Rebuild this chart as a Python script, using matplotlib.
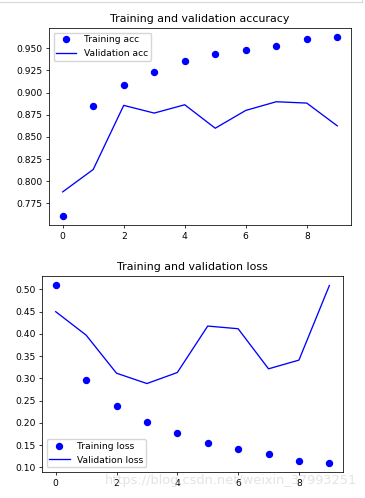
import matplotlib
matplotlib.use('Agg')
import matplotlib.pyplot as plt
from matplotlib.lines import Line2D

# Base style: small sizes so the picture matches a scaled-down notebook screenshot
plt.rcParams['font.family'] = 'DejaVu Sans'
plt.rcParams['font.size'] = 6.6
plt.rcParams['axes.titlesize'] = 7.9
plt.rcParams['axes.linewidth'] = 0.55
plt.rcParams['xtick.major.size'] = 2.2
plt.rcParams['ytick.major.size'] = 2.2
plt.rcParams['xtick.major.width'] = 0.55
plt.rcParams['ytick.major.width'] = 0.55
plt.rcParams['xtick.major.pad'] = 2.5
plt.rcParams['ytick.major.pad'] = 2.5
plt.rcParams['axes.titlepad'] = 4

# Data read from the training history
epochs = list(range(10))
train_acc = [0.7606, 0.8848, 0.9083, 0.9235, 0.9352, 0.9432, 0.9485, 0.9526, 0.9606, 0.9629]
val_acc = [0.7879, 0.8132, 0.8856, 0.8769, 0.8863, 0.8598, 0.8799, 0.8897, 0.8882, 0.8625]
train_loss = [0.5098, 0.2959, 0.2387, 0.2020, 0.1780, 0.1555, 0.1420, 0.1300, 0.1135, 0.1098]
val_loss = [0.4497, 0.3971, 0.3116, 0.2884, 0.3131, 0.4174, 0.4114, 0.3214, 0.3410, 0.5083]

fig = plt.figure(figsize=(3.65, 4.98), dpi=100)

# Accuracy plot
ax1 = fig.add_axes([0.1342, 0.5482, 0.8274, 0.3956])
ax1.plot(epochs, train_acc, 'bo', markersize=4.3, label='Training acc')
ax1.plot(epochs, val_acc, 'b', linewidth=0.95, label='Validation acc')
ax1.set_title('Training and validation accuracy')
ax1.set_yticks([0.775, 0.800, 0.825, 0.850, 0.875, 0.900, 0.925, 0.950])
ax1.set_xticks([0, 2, 4, 6, 8])
ax1.legend(loc='upper left', borderpad=0.3, handlelength=2.2)

# Loss plot
ax2 = fig.add_axes([0.1151, 0.0522, 0.8247, 0.3936])
ax2.plot(epochs, train_loss, 'bo', markersize=4.3, label='Training loss')
ax2.plot(epochs, val_loss, 'b', linewidth=0.95, label='Validation loss')
ax2.set_title('Training and validation loss')
ax2.set_xticks([0, 2, 4, 6, 8])
ax2.legend(loc='lower left', borderpad=0.3, handlelength=2.2)

# Notebook cell border at the top and blog watermark
fig.add_artist(Line2D([0, 0.992], [0.9955, 0.9955], color='#d8d8d8', linewidth=0.8))
fig.add_artist(Line2D([0.992, 0.992], [0.9955, 1.0], color='#d8d8d8', linewidth=0.8))
fig.text(0.977, 0.035, 'https://blog.csdn.net/weixin_37993251', ha='right', va='center',
         fontsize=9.3, color='#c8c8c8', alpha=0.5, zorder=0)

fig.savefig('out.png', dpi=100)
